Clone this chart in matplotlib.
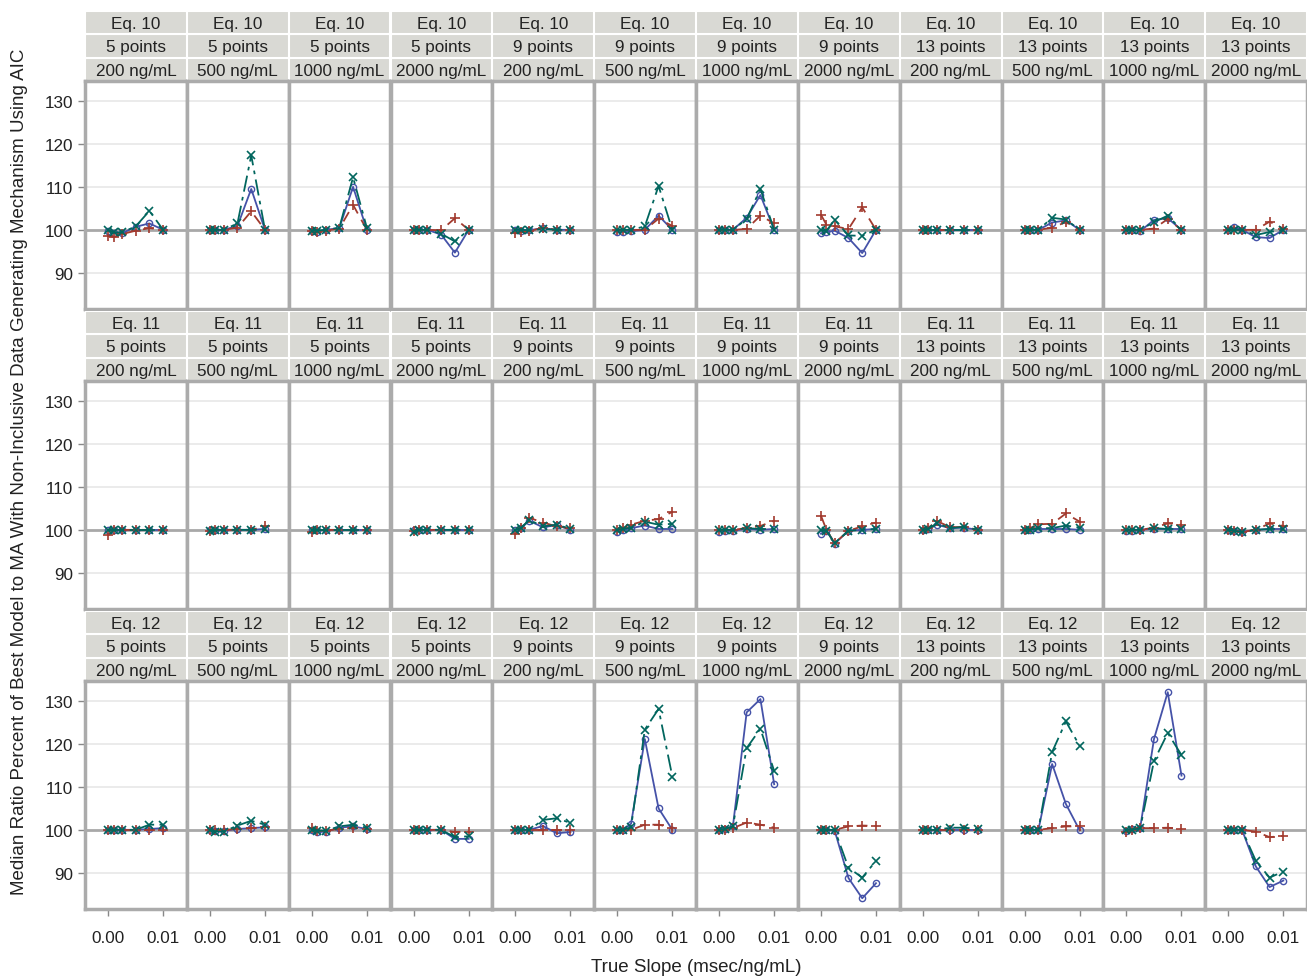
import matplotlib
matplotlib.use("Agg")
import matplotlib.pyplot as plt
from matplotlib.patches import Rectangle

plt.rcParams["font.family"] = ["Liberation Sans", "DejaVu Sans"]

# ---- data -------------------------------------------------------------
true_slope = [0.0, 0.001, 0.0025, 0.005, 0.0075, 0.01]

equations = ["Eq. 10", "Eq. 11", "Eq. 12"]
n_points = ["5 points"] * 4 + ["9 points"] * 4 + ["13 points"] * 4
concentrations = ["200 ng/mL", "500 ng/mL", "1000 ng/mL", "2000 ng/mL"] * 3

y_ticks = [90, 100, 110, 120, 130]
x_ticks = [0.0, 0.01]

blue_eq10 = [
    [99.8, 99.2, 99.2, 100.7, 101.5, 100.0],
    [100.0, 100.0, 100.0, 100.9, 109.5, 100.0],
    [99.8, 99.6, 100.0, 100.4, 110.0, 100.0],
    [100.0, 100.0, 100.0, 98.9, 94.7, 100.0],
    [100.0, 99.8, 99.9, 100.4, 100.0, 100.0],
    [99.4, 99.5, 99.7, 100.0, 103.3, 100.0],
    [100.0, 100.0, 100.0, 102.8, 108.1, 100.0],
    [99.2, 99.5, 99.8, 98.1, 94.6, 100.0],
    [100.0, 100.0, 100.0, 100.0, 100.0, 100.0],
    [100.0, 100.0, 100.0, 101.7, 102.2, 100.0],
    [100.0, 100.0, 99.7, 102.3, 102.7, 100.0],
    [100.0, 100.6, 100.0, 98.3, 98.1, 100.0],
]
red_eq10 = [
    [98.6, 98.3, 99.0, 99.8, 100.4, 100.0],
    [100.0, 100.0, 100.0, 100.5, 104.3, 100.0],
    [99.7, 99.5, 99.8, 100.3, 105.8, 100.0],
    [100.0, 100.0, 100.0, 99.9, 102.7, 100.0],
    [99.2, 99.5, 99.7, 100.5, 100.0, 100.0],
    [100.0, 100.0, 100.0, 100.0, 102.6, 100.9],
    [100.0, 100.0, 100.0, 100.2, 103.3, 101.5],
    [103.5, 101.2, 100.8, 100.2, 105.2, 100.0],
    [100.0, 100.0, 100.0, 100.0, 100.0, 100.0],
    [100.0, 100.0, 100.0, 100.5, 101.8, 100.0],
    [100.0, 100.0, 100.0, 100.3, 102.5, 100.0],
    [100.0, 100.0, 100.0, 100.0, 101.9, 100.3],
]
green_eq10 = [
    [100.0, 99.4, 99.4, 100.8, 104.4, 100.0],
    [100.0, 100.0, 100.0, 101.5, 117.3, 100.0],
    [99.8, 99.8, 100.0, 100.5, 112.2, 100.5],
    [100.0, 100.0, 100.0, 99.1, 97.3, 100.0],
    [100.0, 100.0, 99.9, 100.2, 100.0, 100.0],
    [100.0, 100.0, 100.0, 100.8, 110.2, 100.0],
    [100.0, 100.0, 100.0, 102.5, 109.5, 100.0],
    [100.0, 99.8, 102.3, 98.7, 98.6, 100.0],
    [100.0, 100.0, 100.0, 100.0, 100.0, 100.0],
    [100.0, 100.0, 100.0, 102.8, 102.4, 100.0],
    [100.0, 100.0, 100.0, 101.8, 103.3, 100.0],
    [100.0, 100.0, 100.0, 98.8, 99.5, 100.0],
]

blue_eq11 = [
    [100.0, 100.0, 100.0, 100.0, 100.0, 100.0],
    [100.0, 100.0, 100.0, 100.0, 100.0, 100.2],
    [100.0, 100.0, 100.0, 100.0, 100.0, 100.0],
    [100.0, 100.0, 100.0, 100.0, 100.0, 100.0],
    [100.0, 100.4, 102.1, 100.6, 101.1, 100.0],
    [99.5, 100.0, 100.4, 101.0, 100.2, 100.2],
    [99.6, 99.8, 99.8, 100.2, 100.0, 100.2],
    [99.1, 99.8, 96.8, 99.8, 100.0, 100.2],
    [100.0, 100.2, 101.2, 100.4, 100.5, 100.0],
    [100.0, 100.0, 100.2, 100.2, 100.2, 100.0],
    [99.8, 99.8, 100.0, 100.2, 100.2, 100.2],
    [100.0, 99.8, 99.5, 100.0, 100.2, 100.2],
]
red_eq11 = [
    [98.7, 100.0, 100.0, 100.0, 100.0, 100.0],
    [99.8, 100.0, 100.0, 100.0, 100.0, 100.8],
    [99.6, 100.0, 100.0, 100.0, 100.0, 100.0],
    [99.8, 100.0, 100.0, 100.0, 100.0, 100.0],
    [99.0, 100.4, 102.8, 101.7, 100.8, 100.4],
    [100.0, 100.4, 101.2, 102.1, 102.5, 104.2],
    [100.0, 100.0, 100.0, 100.4, 100.9, 102.1],
    [103.3, 100.0, 96.9, 99.8, 100.8, 101.7],
    [100.0, 100.4, 102.1, 100.6, 100.7, 100.0],
    [100.0, 100.4, 101.3, 101.4, 103.8, 101.9],
    [100.0, 100.0, 100.0, 100.5, 101.5, 101.2],
    [100.0, 99.8, 99.5, 100.0, 101.5, 100.9],
]
green_eq11 = [
    [100.0, 100.0, 100.0, 100.0, 100.0, 100.0],
    [99.8, 100.0, 100.0, 100.0, 100.0, 100.1],
    [100.0, 100.0, 100.0, 100.0, 100.0, 100.0],
    [99.6, 100.0, 100.0, 100.0, 100.0, 100.0],
    [100.0, 100.4, 102.3, 100.8, 101.2, 100.2],
    [100.0, 100.2, 100.5, 101.9, 101.2, 101.4],
    [100.0, 100.0, 100.0, 100.4, 100.2, 100.2],
    [100.0, 99.8, 96.9, 99.8, 100.0, 100.2],
    [100.0, 100.2, 101.5, 100.4, 100.7, 100.0],
    [100.0, 100.0, 100.4, 100.4, 101.0, 100.5],
    [100.0, 100.0, 100.0, 100.4, 100.2, 100.2],
    [100.0, 99.8, 99.5, 100.0, 100.2, 100.2],
]

blue_eq12 = [
    [100.0, 100.0, 100.0, 100.0, 100.2, 100.4],
    [100.0, 99.8, 99.8, 100.2, 100.4, 100.6],
    [100.0, 99.5, 99.6, 100.5, 100.8, 100.2],
    [100.0, 100.0, 100.0, 100.0, 97.9, 97.9],
    [100.0, 100.0, 100.0, 100.9, 99.2, 99.5],
    [100.0, 100.0, 101.4, 121.1, 105.0, 100.0],
    [100.0, 100.2, 100.8, 127.3, 130.4, 110.6],
    [100.0, 100.0, 99.8, 88.8, 84.1, 87.6],
    [100.0, 100.0, 100.0, 100.0, 100.0, 100.0],
    [100.0, 100.0, 100.0, 115.3, 106.0, 99.9],
    [99.8, 100.2, 100.5, 121.1, 132.0, 112.6],
    [100.0, 100.0, 100.0, 91.5, 86.7, 88.2],
]
red_eq12 = [
    [100.0, 100.0, 100.0, 100.0, 100.0, 100.0],
    [100.0, 100.0, 100.0, 100.2, 100.4, 100.6],
    [100.4, 99.8, 99.8, 100.2, 100.5, 100.2],
    [100.0, 100.0, 100.0, 100.0, 99.5, 99.6],
    [100.0, 100.0, 100.0, 100.0, 100.0, 100.0],
    [100.0, 100.0, 100.0, 101.2, 101.2, 100.5],
    [100.0, 100.0, 100.4, 101.7, 101.2, 100.5],
    [100.0, 100.0, 100.0, 100.8, 101.0, 100.9],
    [100.0, 100.0, 100.0, 100.0, 100.0, 100.0],
    [100.0, 100.0, 100.0, 100.4, 100.8, 100.8],
    [99.6, 100.0, 100.4, 100.4, 100.5, 100.2],
    [100.0, 100.0, 100.0, 99.6, 98.3, 98.6],
]
green_eq12 = [
    [100.0, 100.0, 100.0, 100.0, 101.2, 101.2],
    [100.0, 99.6, 99.6, 101.0, 102.1, 101.2],
    [100.0, 99.8, 99.8, 100.8, 101.2, 100.5],
    [100.0, 100.0, 100.0, 100.0, 98.3, 98.5],
    [100.0, 100.0, 100.0, 102.3, 102.7, 101.6],
    [100.0, 100.0, 100.6, 123.3, 128.1, 112.4],
    [100.0, 100.2, 100.8, 119.0, 123.5, 113.7],
    [100.0, 100.0, 100.0, 91.2, 88.9, 92.8],
    [100.0, 100.0, 100.0, 100.5, 100.5, 100.2],
    [100.0, 100.0, 100.0, 118.1, 125.2, 119.5],
    [100.0, 100.0, 100.4, 116.0, 122.5, 117.4],
    [100.0, 100.0, 100.0, 92.8, 88.9, 90.3],
]

blue_rows = [blue_eq10, blue_eq11, blue_eq12]
red_rows = [red_eq10, red_eq11, red_eq12]
green_rows = [green_eq10, green_eq11, green_eq12]

# ---- layout (pixels) ---------------------------------------------------
W, H = 1307, 979
LEFT, RIGHT = 85, 1307
TOP0, ROW_H = 12, 300
HEAD_H, PLOT_H = 70, 228
PW = (RIGHT - LEFT) / 12

BLUE, RED, GREEN = "#4552A8", "#A23A2E", "#01665E"
FRAME = "#ABABAB"
HEAD_FILL = "#D9D9D4"
FS = 12.3       # header / tick values
FS_LABEL = 13.5  # axis labels


def fig_rect(x, y, w, h):
    # pixel box (top-left origin) -> figure fraction
    return [x / W, 1 - (y + h) / H, w / W, h / H]


fig = plt.figure(figsize=(W / 100, H / 100), dpi=100)

for r in range(3):
    for c in range(12):
        x0 = LEFT + c * PW
        top = TOP0 + r * ROW_H

        # header strip with three label rows
        hax = fig.add_axes(fig_rect(x0, top, PW, HEAD_H))
        hax.set_xlim(0, 1)
        hax.set_ylim(0, 3)
        hax.axis("off")
        labels = [concentrations[c], n_points[c], equations[r]]
        for k, lab in enumerate(labels):
            hax.add_patch(Rectangle((0, k), 1, 1, facecolor=HEAD_FILL,
                                    edgecolor="white", linewidth=1.5))
            hax.text(0.5, k + 0.47, lab, ha="center", va="center", fontsize=FS,
                     color="#222222")

        ax = fig.add_axes(fig_rect(x0, top + HEAD_H, PW, PLOT_H))
        ax.set_xlim(-0.0042, 0.0143)
        ax.set_ylim(81.6, 134.6)
        for y in y_ticks:
            if y == 100:
                ax.axhline(y, color="#A8A8A8", linewidth=2.0, zorder=1)
            else:
                ax.axhline(y, color="#E8E8E8", linewidth=1.2, zorder=0)

        ax.plot(true_slope, blue_rows[r][c], color=BLUE, linestyle="-",
                linewidth=1.3, marker="o", markersize=4.5,
                markerfacecolor="none", markeredgewidth=1.0, zorder=3)
        ax.plot(true_slope, red_rows[r][c], color=RED, linestyle=(0, (6, 4)),
                linewidth=1.3, marker="+", markersize=7,
                markeredgewidth=1.2, zorder=4)
        ax.plot(true_slope, green_rows[r][c], color=GREEN,
                linestyle=(0, (9, 3, 2, 3)), linewidth=1.3, marker="x",
                markersize=5.5, markeredgewidth=1.2, zorder=5)

        for s in ax.spines.values():
            s.set_color(FRAME)
            s.set_linewidth(2.5)

        ax.set_yticks(y_ticks)
        ax.set_xticks(x_ticks)
        ax.tick_params(colors="#888888", length=5, width=1, labelcolor="#222222",
                       labelsize=FS)
        if c == 0:
            ax.set_yticklabels([str(v) for v in y_ticks])
        else:
            ax.tick_params(axis="y", left=False, labelleft=False)
        if r == 2:
            ax.set_xticklabels([f"{v:.2f}" for v in x_ticks])
            ax.tick_params(axis="x", pad=10)
        else:
            ax.tick_params(axis="x", bottom=False, labelbottom=False)

fig.text(20 / W, 1 - 472 / H,
         "Median Ratio Percent of Best Model to MA With Non-Inclusive Data Generating Mechanism Using AIC",
         rotation=90, ha="center", va="center", fontsize=FS_LABEL, color="#222222")
fig.text((LEFT + RIGHT) / 2 / W, 1 - 968 / H, "True Slope (msec/ng/mL)",
         ha="center", va="center", fontsize=FS_LABEL, color="#222222")

fig.savefig("out.png", dpi=100)
plt.close(fig)
